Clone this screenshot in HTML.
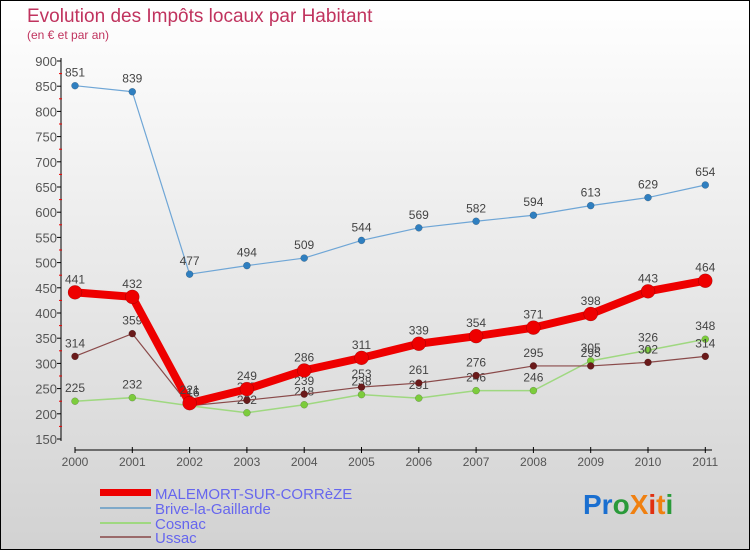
<!DOCTYPE html>
<html><head><meta charset="utf-8"><style>
body{margin:0}
svg{display:block;font-family:"Liberation Sans",sans-serif}
</style></head><body>
<svg width="750" height="550" viewBox="0 0 750 550">
<defs><linearGradient id="bg" x1="0" y1="0" x2="0" y2="1"><stop offset="0" stop-color="#ffffff"/><stop offset="1" stop-color="#d2d2d2"/></linearGradient></defs>
<rect x="0.5" y="0.5" width="749" height="549" fill="url(#bg)" stroke="#000"/>
<text x="27" y="22" font-size="19" fill="#c0335e">Evolution des Impôts locaux par Habitant</text>
<text x="27" y="39" font-size="12" fill="#c0335e">(en € et par an)</text>
<g id="axes"></g>
<g id="series"></g>
<g id="legend">
<rect x="100" y="489" width="51" height="7" fill="#e00"/>
<text x="155" y="499" font-size="15" fill="#6666ee">MALEMORT-SUR-CORRèZE</text>
<rect x="100" y="507" width="51" height="2" fill="#7fa9c9"/>
<text x="155" y="514" font-size="15" fill="#6666ee">Brive-la-Gaillarde</text>
<rect x="100" y="522" width="51" height="2" fill="#9fd880"/>
<text x="155" y="529" font-size="15" fill="#6666ee">Cosnac</text>
<rect x="100" y="536" width="51" height="2" fill="#9a6a6a"/>
<text x="155" y="543" font-size="15" fill="#6666ee">Ussac</text>
</g>
<text x="583" y="514" font-size="28" font-weight="bold"><tspan fill="#1a6fd0">Pr</tspan><tspan fill="#2a9a3a">o</tspan><tspan fill="#f08010">X</tspan><tspan fill="#e03010">i</tspan><tspan fill="#f08010">t</tspan><tspan fill="#2a9a3a">i</tspan></text>
</svg>
<script>
const years=[2000,2001,2002,2003,2004,2005,2006,2007,2008,2009,2010,2011];
const yTicks=[150,200,250,300,350,400,450,500,550,600,650,700,750,800,850,900];
const malemort=[441,432,221,249,286,311,339,354,371,398,443,464];
const brive=[851,839,477,494,509,544,569,582,594,613,629,654];
const cosnac=[225,232,216,202,218,238,231,246,246,305,326,348];
const ussac=[314,359,216,227,239,253,261,276,295,295,302,314];
const NS="http://www.w3.org/2000/svg";
const X=i=>75+i*57.3;
const Y=v=>61+(900-v)*0.504;
function el(t,a,p){const e=document.createElementNS(NS,t);for(const k in a)e.setAttribute(k,a[k]);p.appendChild(e);return e;}
const ax=document.getElementById('axes');
let l=el('line',{x1:61,y1:58,x2:61,y2:441,stroke:'#000'},ax);


yTicks.forEach((v,i)=>{
  el('line',{x1:57,y1:Y(v),x2:61,y2:Y(v),stroke:'#000'},ax);
  if(i<yTicks.length-1){el('line',{x1:59,y1:Y(v+25),x2:62,y2:Y(v+25),stroke:'#e00'},ax);}
  const t=el('text',{x:57,y:Y(v)+5,'text-anchor':'end','font-size':13,fill:'#555'},ax);
  t.textContent=v;
  
  
});
l=el('line',{x1:75,y1:450,x2:712,y2:450,stroke:'#000'},ax);


years.forEach((y,i)=>{
  el('line',{x1:X(i),y1:447,x2:X(i),y2:453,stroke:'#000'},ax);
  const t=el('text',{x:X(i),y:466,'text-anchor':'middle','font-size':12,fill:'#555'},ax);
  t.textContent=y;
  
  
});
const sg=document.getElementById('series');
function series(name,vals,color,w,r,dot){
  const g=el('g',{},sg);
  
  
  el('polyline',{points:vals.map((v,i)=>X(i)+','+Y(v)).join(' '),fill:'none',stroke:color,'stroke-width':w,'stroke-linejoin':'round'},g);
  vals.forEach((v,i)=>{
    const c=el('circle',{cx:X(i),cy:Y(v),r:r,fill:dot,stroke:'rgba(0,0,0,0.3)','stroke-width':0.5},g);
    
    
    const t=el('text',{x:X(i),y:Y(v)-9,'text-anchor':'middle','font-size':12,fill:'#444'},g);
    t.textContent=v;
    
    
  });
}
series('cosnac',cosnac,'#9fd880',1.5,3.5,'#7ccc3c');
series('ussac',ussac,'#8a4a4a',1.2,3.5,'#6a1a1a');
series('brive',brive,'#6fa6d6',1.2,3.5,'#2f7fc0');
series('malemort',malemort,'#ee0000',8,7,'#ee0000');
</script>
</body></html>
